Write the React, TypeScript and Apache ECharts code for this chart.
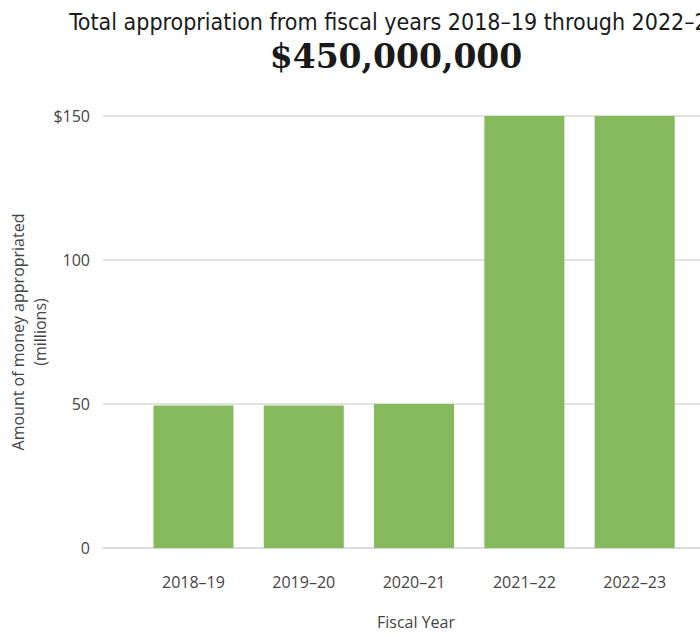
import React, { useEffect, useRef } from "react";
import * as echarts from "echarts";

const titleText = "Total appropriation from fiscal years 2018–19 through 2022–23";
const totalText = "$450,000,000";
const categories = ["2018–19", "2019–20", "2020–21", "2021–22", "2022–23"];
const values = [49.5, 49.5, 50, 150, 150];
const yTicks = [0, 50, 100, 150];

export default function App() {
  const ref = useRef<HTMLDivElement>(null);
  useEffect(() => {
    const chart = echarts.init(ref.current!, null, { renderer: "svg" });
    const labelFont = "'Open Sans', 'Noto Sans', sans-serif";
    chart.setOption({
      animation: false,
      title: [
        {
          text: titleText,
          left: 390,
          top: 5,
          textAlign: "center",
          textStyle: {
            fontFamily: "'Liberation Sans Narrow', 'DejaVu Sans Condensed', Roboto, sans-serif",
            fontSize: 23,
            fontWeight: "normal",
            color: "#1a1a1a",
          },
        },
        {
          text: totalText,
          left: 391,
          top: 35,
          textAlign: "center",
          textStyle: {
            fontFamily: "'DejaVu Serif', serif",
            fontSize: 33,
            fontWeight: "bold",
            color: "#1a1a1a",
          },
        },
      ],
      grid: { left: 103, right: -29, top: 116, bottom: 87, outerBoundsMode: "none", containLabel: false },
      xAxis: {
        type: "value",
        min: -0.82,
        max: 4.855,
        name: "Fiscal Year",
        nameLocation: "middle",
        nameGap: 66,
        nameTextStyle: { fontFamily: labelFont, fontSize: 16, color: "#444" },
        axisLine: { show: true, lineStyle: { color: "#d9d9d9", width: 1.5 } },
        axisTick: { show: false },
        splitLine: { show: false },
        axisLabel: {
          customValues: categories.map((_, i) => i),
          formatter: (v: number) => categories[Math.round(v)] ?? "",
          margin: 26,
          fontFamily: labelFont,
          fontSize: 16,
          color: "#444",
        },
      },
      yAxis: {
        type: "value",
        min: 0,
        max: 150,
        interval: 50,
        name: "Amount of money appropriated\n(millions)",
        nameLocation: "middle",
        nameGap: 52,
        nameMoveOverlap: false,
        nameTextStyle: { fontFamily: labelFont, fontSize: 16, color: "#444", lineHeight: 22 },
        axisLine: { show: false },
        axisTick: { show: false },
        splitLine: { lineStyle: { color: "#d9d9d9", width: 1.5 } },
        axisLabel: {
          formatter: (v: number) => (v === yTicks[yTicks.length - 1] ? "$" + v : String(v)),
          margin: 13,
          fontFamily: labelFont,
          fontSize: 16,
          color: "#444",
        },
      },
      series: [
        {
          type: "bar",
          barWidth: 80,
          itemStyle: { color: "#84b95c" },
          data: values.map((v, i) => [i, v]),
        },
      ],
    });
    return () => chart.dispose();
  }, []);
  return (
    <div
      ref={ref}
      style={{ position: "absolute", left: 0, top: 0, width: 700, height: 635, overflow: "hidden" }}
    />
  );
}
